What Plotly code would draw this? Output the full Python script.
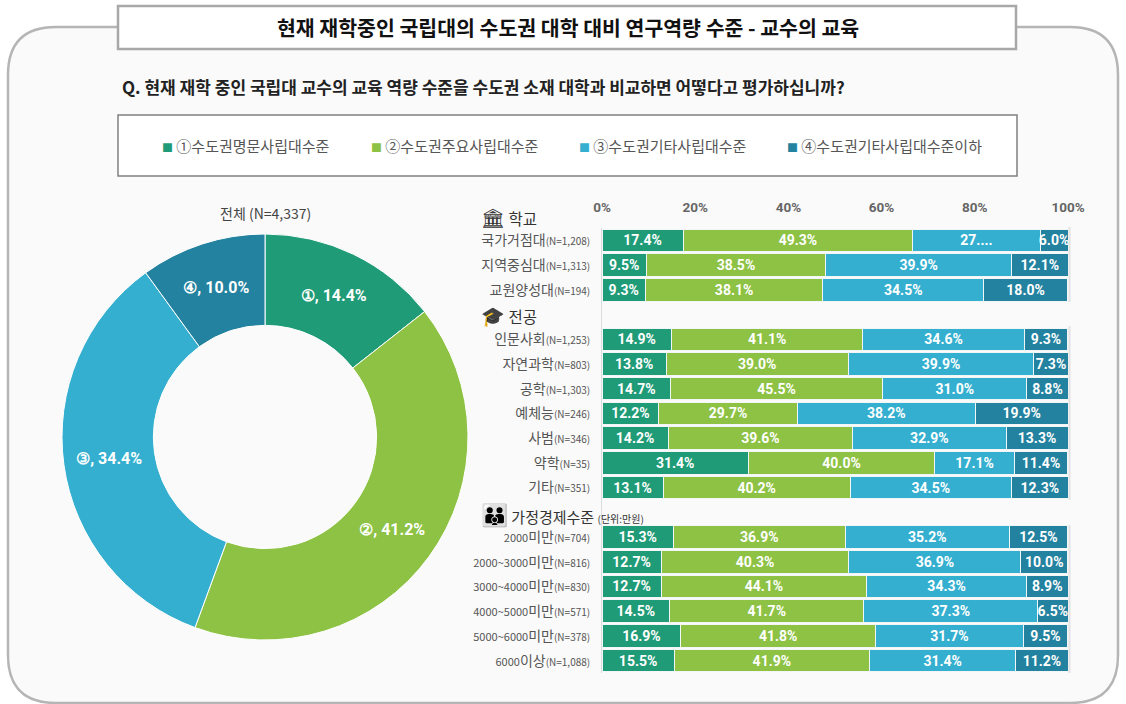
import re
import plotly.graph_objects as go

W, H = 1126, 704
CJK = "Noto Sans CJK KR"
NUM = "Roboto"

series_names = ["①수도권명문사립대수준", "②수도권주요사립대수준", "③수도권기타사립대수준", "④수도권기타사립대수준이하"]
colors = ["#1F9B77", "#8DC244", "#35AFD0", "#23829F"]

total_labels = ["①", "②", "③", "④"]
total_values = [14.4, 41.2, 34.4, 10.0]

rows = ["국가거점대", "지역중심대", "교원양성대",
        "전공", "인문사회", "자연과학", "공학", "예체능", "사범", "약학", "기타",
        "가정경제수준", "2000미만", "2000~3000미만", "3000~4000미만", "4000~5000미만", "5000~6000미만", "6000이상"]
row_n = ["1,208", "1,313", "194",
         None, "1,253", "803", "1,303", "246", "346", "35", "351",
         None, "704", "816", "830", "571", "378", "1,088"]
s1 = [17.4, 9.5, 9.3, None, 14.9, 13.8, 14.7, 12.2, 14.2, 31.4, 13.1, None, 15.3, 12.7, 12.7, 14.5, 16.9, 15.5]
s2 = [49.3, 38.5, 38.1, None, 41.1, 39.0, 45.5, 29.7, 39.6, 40.0, 40.2, None, 36.9, 40.3, 44.1, 41.7, 41.8, 41.9]
s3 = [27.3, 39.9, 34.5, None, 34.6, 39.9, 31.0, 38.2, 32.9, 17.1, 34.5, None, 35.2, 36.9, 34.3, 37.3, 31.7, 31.4]
s4 = [6.0, 12.1, 18.0, None, 9.3, 7.3, 8.8, 19.9, 13.3, 11.4, 12.3, None, 12.5, 10.0, 8.9, 6.5, 9.5, 11.2]
series = [s1, s2, s3, s4]
x_ticks = [0, 20, 40, 60, 80, 100]

title = "현재 재학중인 국립대의 수도권 대학 대비 연구역량 수준 - 교수의 교육"
question = "Q. 현재 재학 중인 국립대 교수의 교육 역량 수준을 수도권 소재 대학과 비교하면 어떻다고 평가하십니까?"
total_title = "전체 (N=4,337)"


def fx(p):
    return p / W


def fy(p):
    return 1 - p / H


fig = go.Figure()

fig.add_trace(go.Pie(
    labels=total_labels, values=total_values, sort=False, direction="clockwise", rotation=0,
    hole=0.55, marker=dict(colors=colors, line=dict(color="#ffffff", width=1)),
    text=[f"{l}, {v:.1f}%" for l, v in zip(total_labels, total_values)],
    textinfo="text", textposition="inside", insidetextorientation="horizontal",
    textfont=dict(family=NUM, size=16, color="white", weight="bold"),
    domain=dict(x=[fx(62), fx(468)], y=[fy(640), fy(234)]),
    showlegend=False, hoverinfo="label+value",
))


def row_label(r, n):
    shown = re.sub(r"([0-9~]+)", r'<span style="font-size:11px">\1</span>', r)
    return f'{shown}<span style="font-size:10px">(N={n})</span>'


tickvals = [r for r, n in zip(rows, row_n) if n]
ticktext = [row_label(r, n) for r, n in zip(rows, row_n) if n]

for name, vals, col in zip(series_names, series, colors):
    txt = [None if v is None else f"{v:.1f}%" for v in vals]
    if vals is s3:
        txt[rows.index("국가거점대")] = "27...."
    fig.add_trace(go.Bar(
        y=rows, x=vals, name=name, orientation="h", marker=dict(color=col, line=dict(color="#f2f6f6", width=1)),
        text=txt, textposition="inside", insidetextanchor="middle", constraintext="none",
        textangle=0,
        textfont=dict(family=NUM, size=14, color="white", weight="bold"),
        showlegend=False,
    ))

fig.update_layout(
    width=W, height=H, margin=dict(l=0, r=0, t=0, b=0, autoexpand=False),
    paper_bgcolor="white", plot_bgcolor="rgba(0,0,0,0)",
    barmode="stack", bargap=0.09, font=dict(family=CJK, color="#444"),
    xaxis=dict(domain=[fx(602), fx(1068)], range=[0, 100], side="top", tickvals=x_ticks,
               ticktext=[f"{t}%" for t in x_ticks], showgrid=False, zeroline=False, ticks="",
               anchor="y", ticklabelstandoff=12,
               tickfont=dict(family=NUM, size=13.5, color="#666", weight="bold")),
    yaxis=dict(domain=[fy(673), fy(228)], categoryorder="array", categoryarray=rows, autorange="reversed",
               tickmode="array", tickvals=tickvals, ticktext=ticktext, ticks="", showgrid=False,
               zeroline=False, showline=True, linecolor="#dddddd", linewidth=1, ticklabelstandoff=8,
               tickfont=dict(family=CJK, size=14, color="#555")),
)

L, R, T, B = 8, 1118, 27, 703
r = 48


def rect(x0, y0, x1, y1, line, width, fill="white"):
    return dict(type="rect", xref="paper", yref="paper", x0=fx(x0), x1=fx(x1), y0=fy(y0), y1=fy(y1),
                line=dict(color=line, width=width), fillcolor=fill, layer="below")


def P(x, y):
    return f"{fx(x):.5f} {fy(y):.5f}"


def edge(y0, y1):
    return dict(type="line", xref="paper", yref="paper", x0=fx(1069.5), x1=fx(1069.5), y0=fy(y0), y1=fy(y1),
                line=dict(color="#e2e2e2", width=2), layer="below")


panel = (f"M {P(L+r,T)} L {P(R-r,T)} Q {P(R,T)} {P(R,T+r)} L {P(R,B-r)} Q {P(R,B)} {P(R-r,B)} "
         f"L {P(L+r,B)} Q {P(L,B)} {P(L,B-r)} L {P(L,T+r)} Q {P(L,T)} {P(L+r,T)} Z")
fig.update_layout(shapes=[
    dict(type="path", path=panel, xref="paper", yref="paper", layer="below",
         line=dict(color="#b5b5b5", width=2.5), fillcolor="#fafafa"),
    rect(118, 6, 1016, 49, "#a8a8a8", 2.5),
    rect(118, 115, 1017, 176, "#808080", 1.5),
    edge(227, 302), edge(326, 500), edge(525, 673),
])


def text(x, y, s, size, color="#222", anchor="left", family=CJK, bold=False):
    fig.add_annotation(x=fx(x), y=fy(y), xref="paper", yref="paper", text=f"<b>{s}</b>" if bold else s,
                       showarrow=False, xanchor=anchor, yanchor="middle",
                       font=dict(family=family, size=size, color=color))


text(568, 27, title, 20.5, "#111", "center", bold=True)
text(120, 87, question, 17, "#222", bold=True)
legend_x = [160, 369, 577, 785]
for x, name, col in zip(legend_x, series_names, colors):
    text(x, 145.5, f"<span style='color:{col};font-size:11px'>■</span> {name}", 15, "#555")
text(265, 213, total_title, 14, "#444", "center")
text(479, 216, "<span style='font-size:19px'>🏛</span> 학교", 15.5, "#333")
text(479, 314, "<span style='font-size:19px'>🎓</span> 전공", 15.5, "#333")
text(479, 513, "<span style='font-size:22px'>👪</span> 가정경제수준 <span style='font-size:10px'>(단위:만원)</span>", 15, "#333")

fig.write_html("out.html", config={"displayModeBar": False},
               post_script="document.body.style.margin='0';document.body.style.overflow='hidden';")
